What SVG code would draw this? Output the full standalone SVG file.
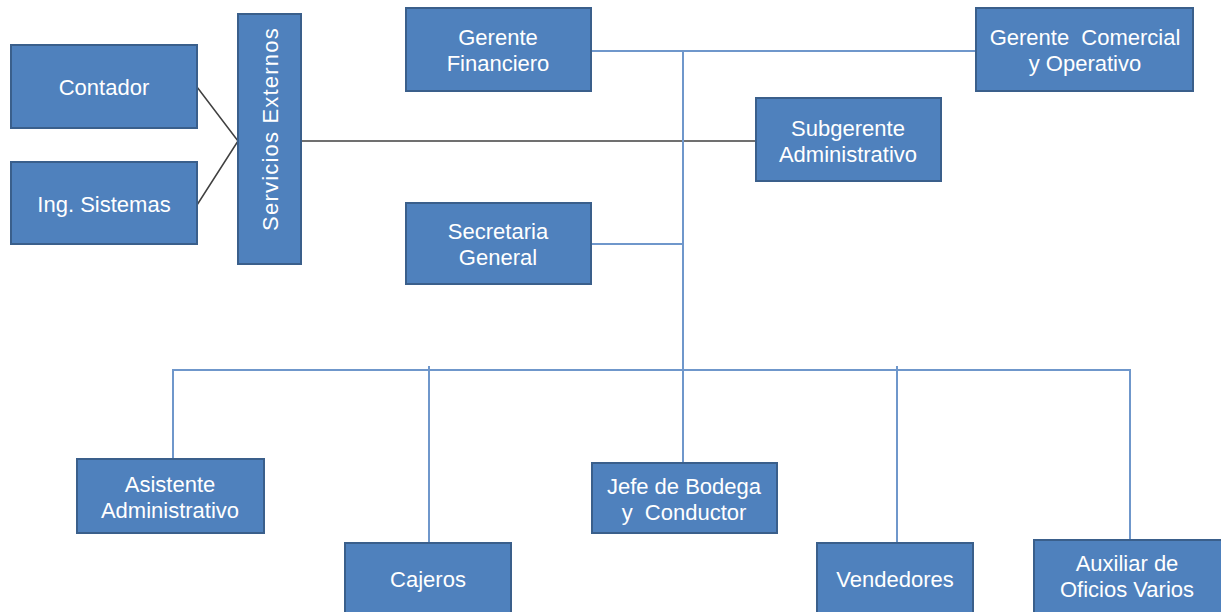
<svg xmlns="http://www.w3.org/2000/svg" width="1221" height="612" viewBox="0 0 1221 612">
<style>
.box{fill:#4F81BD;stroke:#3A5F8B;stroke-width:2}
.t{font-family:"Liberation Sans",Arial,sans-serif;font-size:22px;fill:#FFFFFF;text-anchor:middle;dominant-baseline:central;white-space:pre}
.bl{stroke:#6F97CB;stroke-width:2;fill:none}
.dk{stroke:#404040;stroke-width:1.5;fill:none}
</style>
<rect width="1221" height="612" fill="#FFFFFF"/>
<g id="connectors">
<path class="dk" d="M197,87 L238,141 M197,205 L238,141"/>
<path class="dk" d="M301,141 L756,141" stroke-width="2"/>
<path class="bl" d="M591,51 L976,51 M683,51 L683,463 M591,244 L683,244"/>
<path class="bl" d="M173,459 L173,370 L1130,370 L1130,540 M429,366 L429,543 M897,366 L897,543"/>
</g>
<g id="contador"><rect class="box" x="11" y="45" width="186" height="83"/><text class="t" x="104" y="87">Contador</text></g>
<g id="ing-sistemas"><rect class="box" x="11" y="162" width="186" height="82"/><text class="t" x="104" y="204">Ing. Sistemas</text></g>
<g id="servicios-externos"><rect class="box" x="238" y="14" width="63" height="250"/><text class="t" transform="translate(270,129) rotate(-90)" x="0" y="0" letter-spacing="1.2">Servicios Externos</text></g>
<g id="gerente-financiero"><rect class="box" x="406" y="8" width="185" height="83"/><text class="t" x="498" y="37">Gerente</text><text class="t" x="498" y="63">Financiero</text></g>
<g id="gerente-comercial"><rect class="box" x="976" y="8" width="217" height="83"/><text class="t" x="1085" y="37" xml:space="preserve">Gerente  Comercial</text><text class="t" x="1085" y="63">y Operativo</text></g>
<g id="subgerente"><rect class="box" x="756" y="98" width="185" height="83"/><text class="t" x="848" y="128">Subgerente</text><text class="t" x="848" y="154">Administrativo</text></g>
<g id="secretaria"><rect class="box" x="406" y="203" width="185" height="81"/><text class="t" x="498" y="231">Secretaria</text><text class="t" x="498" y="257">General</text></g>
<g id="asistente"><rect class="box" x="77" y="459" width="187" height="74"/><text class="t" x="170" y="484">Asistente</text><text class="t" x="170" y="510">Administrativo</text></g>
<g id="cajeros"><rect class="box" x="345" y="543" width="166" height="75"/><text class="t" x="428" y="579">Cajeros</text></g>
<g id="jefe-bodega"><rect class="box" x="592" y="463" width="185" height="70"/><text class="t" x="684" y="486">Jefe de Bodega</text><text class="t" x="684" y="512" xml:space="preserve">y  Conductor</text></g>
<g id="vendedores"><rect class="box" x="817" y="543" width="156" height="75"/><text class="t" x="895" y="579">Vendedores</text></g>
<g id="auxiliar"><rect class="box" x="1034" y="540" width="192" height="78"/><text class="t" x="1127" y="563">Auxiliar de</text><text class="t" x="1127" y="589">Oficios Varios</text></g>
</svg>
